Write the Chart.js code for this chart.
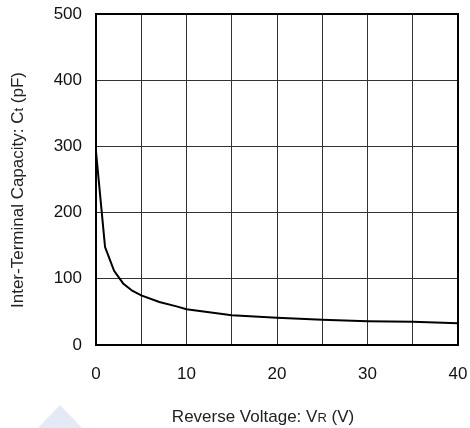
<!DOCTYPE html>
<html>
<head>
<meta charset="utf-8">
<script src="https://cdn.jsdelivr.net/npm/chart.js@4/dist/chart.umd.min.js"></script>
<style>
  html, body { margin: 0; padding: 0; background: #fff; }
  #wrap { width: 470px; height: 428px; position: relative; }
</style>
</head>
<body>
<div id="wrap"><canvas id="ct"></canvas></div>
<script>
// Ct vs VR
const voltage  = [0, 1, 2, 3, 4, 5, 7, 9, 10, 15, 20, 25, 30, 35, 40];
const capacity = [292, 148, 112, 93, 82, 75, 65, 58, 54, 45, 41, 38, 36, 35, 33];
const xGrid  = [0, 5, 10, 15, 20, 25, 30, 35, 40];
const xTicks = [0, 10, 20, 30, 40];
const yTicks = [0, 100, 200, 300, 400, 500];

const FONT = "'Liberation Sans', Arial, sans-serif";

// dibuja texto con partes de distinto tamaño (subíndices tipo Ct, VR)
function drawParts(ctx, parts, cx, cy, angle) {
    ctx.save();
    ctx.translate(cx, cy);
    ctx.rotate(angle);
    ctx.fillStyle = '#222';
    ctx.textBaseline = 'alphabetic';
    ctx.textAlign = 'left';
    let total = 0;
    for (const p of parts) { ctx.font = `${p.size}px ${FONT}`; total += ctx.measureText(p.text).width; }
    let x = -total / 2;
    for (const p of parts) {
        ctx.font = `${p.size}px ${FONT}`;
        ctx.fillText(p.text, x, 0);
        x += ctx.measureText(p.text).width;
    }
    ctx.restore();
}

const decor = {
    id: 'decor',
    beforeDraw(chart) {
        const ctx = chart.ctx;
        ctx.save();
        ctx.fillStyle = '#e3eaf6';
        ctx.beginPath();
        ctx.moveTo(60, 405);
        ctx.lineTo(84, 430);
        ctx.lineTo(36, 430);
        ctx.closePath();
        ctx.fill();
        ctx.restore();
    },
    afterDraw(chart) {
        const { ctx, chartArea: a } = chart;
        // marco completo del área
        ctx.save();
        ctx.strokeStyle = '#000';
        ctx.lineWidth = 2;
        ctx.strokeRect(a.left, a.top, a.right - a.left, a.bottom - a.top);
        ctx.restore();

        drawParts(ctx, [
            { text: 'Reverse Voltage: V', size: 17 },
            { text: 'R', size: 13 },
            { text: ' (V)', size: 17 },
        ], 263, 422, 0);
        drawParts(ctx, [
            { text: 'Inter-Terminal Capacity: C', size: 17 },
            { text: 't', size: 13 },
            { text: ' (pF)', size: 17 },
        ], 23, 190, -Math.PI / 2);
    },
};

new Chart(document.getElementById('ct'), {
    type: 'line',
    data: {
        datasets: [{
            data: voltage.map((v, i) => ({ x: v, y: capacity[i] })),
            borderColor: '#000',
            borderWidth: 2,
            pointRadius: 0,
            tension: 0,
        }],
    },
    options: {
        responsive: true,
        maintainAspectRatio: false,
        animation: false,
        layout: { padding: { top: 14, right: 12, left: 0, bottom: 0 } },
        plugins: { legend: { display: false }, tooltip: { enabled: false } },
        scales: {
            x: {
                type: 'linear',
                min: 0, max: 40,
                afterBuildTicks: (s) => { s.ticks = xGrid.map((v) => ({ value: v })); },
                afterFit: (s) => { s.height = 83; s.paddingLeft = 0; s.paddingRight = 0; },
                grid: { color: '#333', lineWidth: 1, drawTicks: false },
                border: { color: '#000', width: 2 },
                ticks: {
                    color: '#111',
                    font: { family: FONT, size: 17 },
                    padding: 19,
                    maxRotation: 0,
                    autoSkip: false,
                    callback: (v) => (xTicks.includes(v) ? String(v) : ''),
                },
            },
            y: {
                min: 0, max: 500,
                afterBuildTicks: (s) => { s.ticks = yTicks.map((v) => ({ value: v })); },
                afterFit: (s) => { s.width = 96; s.paddingTop = 0; s.paddingBottom = 0; },
                grid: { color: '#333', lineWidth: 1, drawTicks: false },
                border: { color: '#000', width: 2 },
                ticks: {
                    color: '#111',
                    font: { family: FONT, size: 17 },
                    padding: 14,
                },
            },
        },
    },
    plugins: [decor],
});
</script>
</body>
</html>
